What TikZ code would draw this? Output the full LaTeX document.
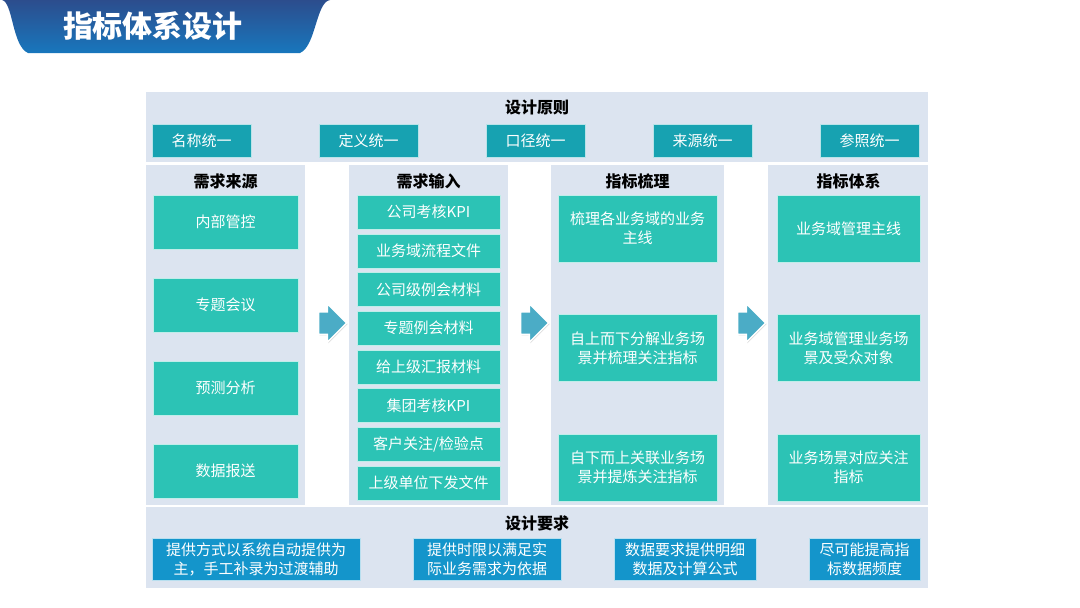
\documentclass[tikz,border=0pt]{standalone}
\usepackage{fontspec}
\setmainfont{Noto Sans CJK SC}
\usetikzlibrary{positioning, shapes.arrows, shadows}
\definecolor{panelbg}{HTML}{DCE4F0}
\definecolor{tealbox}{HTML}{2CC3B5}
\definecolor{darkteal}{HTML}{17A2B1}
\definecolor{reqblue}{HTML}{1495CB}
\definecolor{arrowblue}{HTML}{4BACC6}
\definecolor{titletop}{HTML}{2C4D8D}
\definecolor{titlebot}{HTML}{1877BD}
\tikzset{
  panel/.style={fill=panelbg, draw=none},
  headtxt/.style={font=\bfseries\fontsize{16}{18}\selectfont, inner sep=0pt},
  boxtxt/.style={text=white, font=\fontsize{15}{19}\selectfont, align=center, inner sep=0pt},
  principle/.style={boxtxt, fill=darkteal, draw=white!70!darkteal, minimum width=99, minimum height=33},
  srcbox/.style={boxtxt, fill=tealbox, draw=white!70!tealbox, minimum width=145, minimum height=54},
  inbox/.style={boxtxt, fill=tealbox, draw=white!70!tealbox, minimum width=143, minimum height=34},
  sortbox/.style={boxtxt, fill=tealbox, draw=white!70!tealbox, minimum width=159, minimum height=67},
  sysbox/.style={boxtxt, fill=tealbox, draw=white!70!tealbox, minimum width=143, minimum height=67},
  reqbox/.style={boxtxt, fill=reqblue, draw=white!70!reqblue, minimum height=42},
  flowarrow/.style={single arrow, fill=arrowblue, draw=white, line width=1.5pt,
    minimum height=28, single arrow head extend=8, inner sep=0pt,
    drop shadow={shadow xshift=1pt, shadow yshift=-1pt, opacity=0.3}}
}
\begin{document}
\begin{tikzpicture}[x=1pt, y=-1pt]
\useasboundingbox (0,0) rectangle (1080,608);

% Title bar
\shade[top color=titletop, bottom color=titlebot]
  (2,0) .. controls (13,2) and (12,46) .. (28,53) -- (300,53)
  .. controls (316,46) and (316,2) .. (330,0) -- cycle;
\node[text=white, font=\bfseries\fontsize{30}{33}\selectfont, inner sep=0pt] (title) at (153,26) {指标体系设计};

% Design principles
\fill[panelbg] (146,92) rectangle (928,162);
\node[headtxt] (prinhead) at (537,107) {设计原则};
\node[principle] (p1) at (201.5,140.5) {名称统一};
\node[principle] (p2) at (368.5,140.5) {定义统一};
\node[principle] (p3) at (535.5,140.5) {口径统一};
\node[principle] (p4) at (702.5,140.5) {来源统一};
\node[principle] (p5) at (869.5,140.5) {参照统一};

% Columns
\fill[panelbg] (146,165) rectangle (305,505);
\fill[panelbg] (349,165) rectangle (508,505);
\fill[panelbg] (551,165) rectangle (724,505);
\fill[panelbg] (768,165) rectangle (928,505);

% Demand sources
\node[headtxt] (srchead) at (225.5,181) {需求来源};
\node[srcbox] (src1) at (225.5,222) {内部管控};
\node[srcbox] (src2) at (225.5,305) {专题会议};
\node[srcbox] (src3) at (225.5,388) {预测分析};
\node[srcbox] (src4) at (225.5,471) {数据报送};

% Demand input
\node[headtxt] (inhead) at (428.5,181) {需求输入};
\foreach \txt [count=\i from 0] in {公司考核KPI, 业务域流程文件, 公司级例会材料, 专题例会材料,
    给上级汇报材料, 集团考核KPI, 客户关注/检验点, 上级单位下发文件} {
  \node[inbox] (in\i) at (428.5,212+\i*38.7) {\txt};
}

% Indicator sorting
\node[headtxt] (sorthead) at (637.5,181) {指标梳理};
\node[sortbox] (sort1) at (637.5,228.5) {梳理各业务域的业务\\主线};
\node[sortbox] (sort2) at (637.5,348) {自上而下分解业务场\\景并梳理关注指标};
\node[sortbox] (sort3) at (637.5,467.5) {自下而上关联业务场\\景并提炼关注指标};

% Indicator system
\node[headtxt] (syshead) at (848.5,181) {指标体系};
\node[sysbox] (sys1) at (848.5,228.5) {业务域管理主线};
\node[sysbox] (sys2) at (848.5,348) {业务域管理业务场\\景及受众对象};
\node[sysbox] (sys3) at (848.5,467.5) {业务场景对应关注\\指标};

% Arrows
\node[flowarrow] (arr1) at (327,323) {\rule{0pt}{21pt}};
\node[flowarrow] (arr2) at (529,323) {\rule{0pt}{21pt}};
\node[flowarrow] (arr3) at (746,323) {\rule{0pt}{21pt}};

% Design requirements
\fill[panelbg] (146,507) rectangle (928,588);
\node[headtxt] (reqhead) at (537,523) {设计要求};
\node[reqbox, minimum width=208] (req1) at (256,559) {提供方式以系统自动提供为\\主，手工补录为过渡辅助};
\node[reqbox, minimum width=148] (req2) at (487,559) {提供时限以满足实\\际业务需求为依据};
\node[reqbox, minimum width=142] (req3) at (685,559) {数据要求提供明细\\数据及计算公式};
\node[reqbox, minimum width=111] (req4) at (864.5,559) {尽可能提高指\\标数据频度};
\end{tikzpicture}
\end{document}
